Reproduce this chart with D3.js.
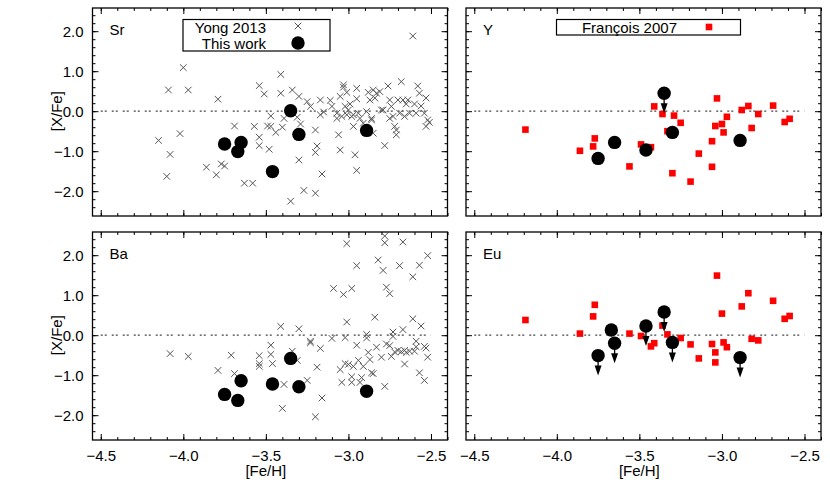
<!DOCTYPE html>
<html>
<head>
<meta charset="utf-8">
<script src="https://cdn.jsdelivr.net/npm/d3@7"></script>
<style>
  body { margin: 0; background: #fff; }
  svg { display: block; }
</style>
</head>
<body>
<div id="chart"></div>
<script>
// This work: [Fe/H] and abundance ratios
var feTW = [-3.75, -3.67, -3.65, -3.46, -3.35, -3.30, -2.89];
var srTW = [-0.82, -1.01, -0.78, -1.51, 0.01, -0.58, -0.48];
var yTW  = [-1.18, null, -0.78, -0.97, 0.45, -0.53, -0.73];
var baTW = [-1.48, -1.63, -1.14, -1.22, -0.58, -1.29, -1.40];
var euTW = [-0.51, 0.13, -0.20, 0.23, 0.58, -0.18, -0.56];
var yLimTW  = [false, false, false, false, true, false, false];
var euLimTW = [true, false, true, true, true, true, true];

// Yong 2013, Sr panel
var yongFeSr = [-4.15, -4.10, -4.08, -4.09, -4.02, -4.00, -3.97, -3.86, -3.80, -3.79,
  -3.77, -3.75, -3.69, -3.63, -3.58, -3.57, -3.54, -3.54, -3.54, -3.51,
  -3.49, -3.48, -3.47, -3.47, -3.44, -3.41, -3.41, -3.40, -3.39, -3.35,
  -3.34, -3.31, -3.30, -3.30, -3.29, -3.27, -3.25, -3.23, -3.20, -3.20,
  -3.19, -3.20, -3.17, -3.16, -3.17, -3.15, -3.11, -3.10, -3.07, -3.06,
  -3.05, -3.05, -3.04, -3.03, -3.03, -3.02, -3.01, -3.00, -2.99, -2.98,
  -2.97, -2.96, -2.95, -2.95, -2.95, -2.94, -2.93, -2.91, -2.89, -2.88,
  -2.87, -2.86, -2.86, -2.85, -2.84, -2.85, -2.83, -2.81, -2.80, -2.78,
  -2.76, -2.75, -2.75, -2.74, -2.73, -2.72, -2.71, -2.71, -2.70, -2.69,
  -2.68, -2.67, -2.66, -2.65, -2.64, -2.63, -2.61, -2.60, -2.59, -2.58,
  -2.57, -2.56, -2.54, -2.53, -2.52, -2.51, -2.53, -2.79, -3.01, -2.97, -3.07];
var yongSr = [-0.73, -1.63, -1.08, 0.53, -0.56, 1.09, 0.53, -1.40, -1.59, 0.30,
  -1.32, -1.37, -0.37, -1.80, -1.80, -0.38, 0.64, -0.65, -0.86, 0.43,
  -0.37, -0.95, -0.12, -0.38, -0.53, 0.92, 0.45, -0.40, -0.18, -2.25,
  0.53, -0.15, 0.37, -1.22, -0.32, -1.98, 0.24, 0.12, -2.05, -0.47,
  -0.87, -1.03, 0.28, -1.57, -0.09, -0.02, 0.27, 0.12, -0.05, -0.59,
  -0.97, 0.37, -0.13, 0.66, 0.60, 0.12, 0.47, 0.03, 0.18, -0.13,
  -0.38, -1.09, -1.48, 0.57, 0.31, -0.05, -0.18, -0.30, -0.01, 0.47,
  0.28, -0.22, -0.18, 0.53, 0.33, -0.55, 0.45, 0.49, 0.03, -0.86,
  0.63, 0.28, -0.18, 0.12, -0.13, -0.38, -0.59, -0.47, 0.28, -0.05,
  0.74, 0.28, -0.13, 0.18, 0.28, -0.05, 1.88, 0.18, -0.05, 0.63,
  0.45, 0.13, -0.05, 0.33, -0.22, -0.28, -0.38, 0.03, -0.09, -0.09, -0.18];

// Yong 2013, Ba panel
var yongFeBa = [-4.08, -3.97, -3.79, -3.71, -3.69, -3.54, -3.54, -3.54, -3.47, -3.47,
  -3.46, -3.40, -3.41, -3.39, -3.34, -3.31, -3.30, -3.25, -3.23, -3.23,
  -3.20, -3.19, -3.17, -3.16, -3.10, -3.09, -3.05, -3.04, -3.03, -3.02,
  -3.02, -3.01, -3.01, -3.00, -2.98, -2.98, -2.98, -2.97, -2.95, -2.95,
  -2.94, -2.93, -2.92, -2.91, -2.89, -2.89, -2.88, -2.87, -2.86, -2.85,
  -2.84, -2.83, -2.82, -2.80, -2.79, -2.78, -2.78, -2.78, -2.77, -2.77,
  -2.75, -2.75, -2.74, -2.73, -2.73, -2.72, -2.70, -2.69, -2.68, -2.67,
  -2.66, -2.67, -2.66, -2.65, -2.63, -2.61, -2.61, -2.60, -2.59, -2.59,
  -2.57, -2.57, -2.56, -2.54, -2.54, -2.53, -2.52, -2.52];
var yongBa = [-0.46, -0.53, -0.88, -0.50, -0.96, -0.51, -0.78, -0.71, -0.25, -0.48,
  -0.71, -1.83, 0.22, -1.23, -0.40, -0.63, 0.16, -1.13, -0.15, -0.19,
  -2.04, -0.80, -0.33, -1.57, -0.08, 1.17, -0.86, -1.18, 1.02, -0.71,
  -0.06, 0.33, 2.29, -0.73, -1.04, 1.17, -1.18, -0.78, 1.74, -0.25,
  -0.63, -1.18, -1.06, -0.78, -0.07, 0.02, -0.43, -0.61, -0.94, -0.96,
  0.45, -0.30, 1.88, -0.55, 1.62, 2.48, 2.31, -1.28, -0.22, 1.20,
  -0.26, 1.04, -0.53, 0.08, -0.03, -0.42, -0.38, 1.74, -0.41, 0.14,
  -0.72, 2.33, -0.38, -0.43, -0.40, 0.41, 1.46, -0.40, -0.15, -0.29,
  1.75, -0.94, 0.23, -1.13, -0.28, -0.32, 1.99, -0.55];

// François 2007 (Y and Eu share the same stars)
var franFe = [-4.19, -3.86, -3.77, -3.78, -3.56, -3.49, -3.43, -3.41, -3.36, -3.33,
  -3.29, -3.30, -3.25, -3.19, -3.14, -3.06, -3.06, -3.04, -3.03, -3.00,
  -2.99, -2.97, -2.88, -2.84, -2.82, -2.78, -2.69, -2.62, -2.59];
var franY = [-0.46, -0.99, -0.68, -0.88, -1.38, -0.83, -0.90, 0.12, -0.07, -0.50,
  -0.11, -1.55, -0.29, -1.76, -1.06, -0.75, -1.39, -0.37, 0.32, -0.32,
  -0.53, -0.14, 0.03, 0.13, -0.42, -0.07, 0.14, -0.27, -0.19];
var franEuFe = [-4.19, -3.86, -3.77, -3.78, -3.56, -3.49, -3.43, -3.41, -3.36, -3.33,
  -3.25, -3.19, -3.14, -3.06, -3.04, -3.04, -3.03, -3.00, -2.99, -2.97,
  -2.88, -2.84, -2.82, -2.78, -2.69, -2.62, -2.59];
var franEu = [0.38, 0.04, 0.76, 0.47, 0.04, -0.02, -0.28, -0.20, 0.24, 0.02,
  -0.07, -0.23, -0.58, -0.22, -0.43, -0.68, 1.49, 0.54, -0.18, -0.30,
  0.72, 1.05, -0.09, -0.13, 0.86, 0.41, 0.48];

var xTicks = [-4.5, -4.0, -3.5, -3.0, -2.5];
var yTicks = [-2, -1, 0, 1, 2];

var W = 830, H = 500,
    pw = 355, ph = 208,
    colX = [92.5, 466], rowY = [8, 232];

var font = "'Liberation Sans', Arial, sans-serif";

var x = d3.scaleLinear().domain([-4.55, -2.4]).range([0, pw]);
var y = d3.scaleLinear().domain([-2.62, 2.58]).range([ph, 0]);
var fmt = d3.format(".1f");

var xMinor = d3.range(-4.5, -2.39, 0.1).map(function(v) { return +v.toFixed(2); });
var yMinor = d3.range(-2.4, 2.41, 0.2).map(function(v) { return +v.toFixed(2); });

var panels = [
  {name: "Sr", col: 0, row: 0, refFe: yongFeSr, ref: yongSr, sym: "cross", tw: srTW, lim: null},
  {name: "Y",  col: 1, row: 0, refFe: franFe, ref: franY, sym: "square", tw: yTW, lim: yLimTW},
  {name: "Ba", col: 0, row: 1, refFe: yongFeBa, ref: yongBa, sym: "cross", tw: baTW, lim: null},
  {name: "Eu", col: 1, row: 1, refFe: franEuFe, ref: franEu, sym: "square", tw: euTW, lim: euLimTW}
];

var svg = d3.select("#chart").append("svg")
  .attr("width", W)
  .attr("height", H)
  .style("font-family", font);

panels.forEach(function(p) {
  var g = svg.append("g")
    .attr("transform", "translate(" + colX[p.col] + "," + rowY[p.row] + ")");

  // ticks, all inward, mirrored on the four sides
  function ax(gen, vals, size, labels, tr, pad) {
    var a = g.append("g")
      .attr("transform", tr)
      .call(gen.tickValues(vals).tickSize(size).tickPadding(pad || 3)
        .tickFormat(labels ? fmt : ""));
    a.select(".domain").remove();
    a.selectAll("line").attr("stroke", "#000").attr("stroke-width", 1);
    a.selectAll("text").attr("font-family", font).attr("font-size", 15).attr("fill", "#000");
    return a;
  }
  ax(d3.axisBottom(x), xMinor, -3, false, "translate(0," + ph + ")");
  ax(d3.axisTop(x), xMinor, -3, false, "translate(0,0)");
  ax(d3.axisLeft(y), yMinor, -3, false, "translate(0,0)");
  ax(d3.axisRight(y), yMinor, -3, false, "translate(" + pw + ",0)");
  ax(d3.axisBottom(x), xTicks, -6, p.row === 1, "translate(0," + ph + ")", 10);
  ax(d3.axisTop(x), xTicks, -6, false, "translate(0,0)");
  ax(d3.axisLeft(y), yTicks, -6, p.col === 0, "translate(0,0)", 9);
  ax(d3.axisRight(y), yTicks, -6, false, "translate(" + pw + ",0)");

  // zero line
  g.append("line")
    .attr("x1", x(-4.5)).attr("x2", x(-2.5))
    .attr("y1", y(0)).attr("y2", y(0))
    .attr("stroke", "#444")
    .attr("stroke-width", 1.2)
    .attr("stroke-dasharray", "2,2,2,5");

  // literature points
  var refData = p.refFe.map(function(fe, i) { return [fe, p.ref[i]]; });
  if (p.sym === "cross") {
    g.selectAll("path.ref").data(refData).enter().append("path")
      .attr("class", "ref")
      .attr("d", function(d) {
        var cx = x(d[0]), cy = y(d[1]), s = 3.3;
        return "M" + (cx - s) + "," + (cy - s) + "L" + (cx + s) + "," + (cy + s) +
               "M" + (cx - s) + "," + (cy + s) + "L" + (cx + s) + "," + (cy - s);
      })
      .attr("stroke", "#555")
      .attr("stroke-width", 1)
      .attr("fill", "none");
  } else {
    g.selectAll("rect.ref").data(refData).enter().append("rect")
      .attr("class", "ref")
      .attr("x", function(d) { return x(d[0]) - 3.3; })
      .attr("y", function(d) { return y(d[1]) - 3.3; })
      .attr("width", 6.6).attr("height", 6.6)
      .attr("fill", "#f00");
  }

  // this work
  var tw = feTW.map(function(fe, i) {
    return {fe: fe, v: p.tw[i], lim: p.lim ? p.lim[i] : false};
  }).filter(function(d) { return d.v !== null; });

  var lims = tw.filter(function(d) { return d.lim; });
  g.selectAll("line.arr").data(lims).enter().append("line")
    .attr("class", "arr")
    .attr("x1", function(d) { return x(d.fe); })
    .attr("x2", function(d) { return x(d.fe); })
    .attr("y1", function(d) { return y(d.v); })
    .attr("y2", function(d) { return y(d.v - 0.5) - 6; })
    .attr("stroke", "#000").attr("stroke-width", 1.3);
  g.selectAll("path.head").data(lims).enter().append("path")
    .attr("class", "head")
    .attr("d", function(d) {
      var cx = x(d.fe), ty = y(d.v - 0.5);
      return "M" + cx + "," + ty + "L" + (cx - 3.5) + "," + (ty - 10) + "L" + (cx + 3.5) + "," + (ty - 10) + "Z";
    })
    .attr("fill", "#000");

  g.selectAll("circle.tw").data(tw).enter().append("circle")
    .attr("class", "tw")
    .attr("cx", function(d) { return x(d.fe); })
    .attr("cy", function(d) { return y(d.v); })
    .attr("r", 6.7)
    .attr("fill", "#000");

  // border
  g.append("rect")
    .attr("width", pw).attr("height", ph)
    .attr("fill", "none")
    .attr("stroke", "#000")
    .attr("stroke-width", 1.3);

  // element label
  g.append("text")
    .attr("x", 17).attr("y", 27)
    .attr("font-size", 15)
    .text(p.name);

  if (p.col === 0) {
    svg.append("text")
      .attr("transform", "translate(57," + (rowY[p.row] + y(0)) + ") rotate(-90)")
      .attr("text-anchor", "middle")
      .attr("dy", "0.35em")
      .attr("font-size", 15)
      .text("[X/Fe]");
  }
  if (p.row === 1) {
    svg.append("text")
      .attr("x", colX[p.col] + x(-3.5))
      .attr("y", 476)
      .attr("text-anchor", "middle")
      .attr("font-size", 15)
      .text("[Fe/H]");
  }
});

// legend, top-left panel
var lg = svg.append("g");
lg.append("rect")
  .attr("x", 183).attr("y", 19.5).attr("width", 147).attr("height", 31.5)
  .attr("fill", "#fff").attr("stroke", "#000").attr("stroke-width", 1.2);
lg.append("text").attr("x", 266).attr("y", 33).attr("text-anchor", "end")
  .attr("font-size", 15).text("Yong 2013");
lg.append("path")
  .attr("d", "M294.7,22.7L301.3,29.3M294.7,29.3L301.3,22.7")
  .attr("stroke", "#555").attr("fill", "none");
lg.append("text").attr("x", 266).attr("y", 48.5).attr("text-anchor", "end")
  .attr("font-size", 15).text("This work");
lg.append("circle").attr("cx", 298).attr("cy", 43).attr("r", 6.7).attr("fill", "#000");

// legend, top-right panel
var lg2 = svg.append("g");
lg2.append("rect")
  .attr("x", 556.5).attr("y", 19.5).attr("width", 184).attr("height", 15.5)
  .attr("fill", "#fff").attr("stroke", "#000").attr("stroke-width", 1.2);
lg2.append("text").attr("x", 677).attr("y", 32.5).attr("text-anchor", "end")
  .attr("font-size", 15).text("François 2007");
lg2.append("rect").attr("x", 705.7).attr("y", 23.7).attr("width", 6.6).attr("height", 6.6)
  .attr("fill", "#f00");
</script>
</body>
</html>
